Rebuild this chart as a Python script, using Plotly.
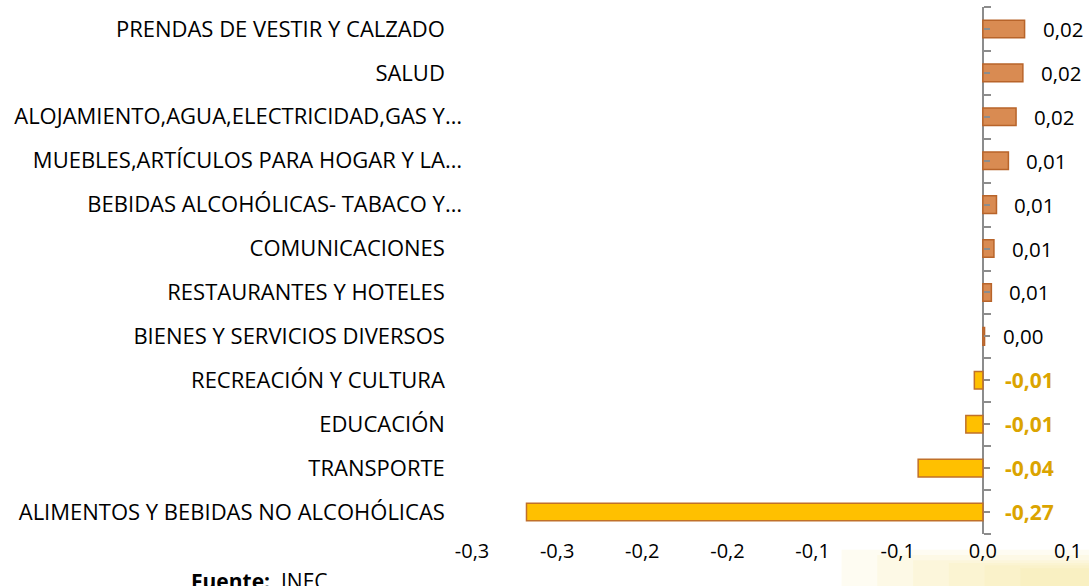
import plotly.graph_objects as go

# categories listed bottom to top
categories = [
    "ALIMENTOS Y BEBIDAS NO ALCOHÓLICAS",
    "TRANSPORTE",
    "EDUCACIÓN",
    "RECREACIÓN Y CULTURA",
    "BIENES Y SERVICIOS DIVERSOS",
    "RESTAURANTES Y HOTELES",
    "COMUNICACIONES",
    "BEBIDAS ALCOHÓLICAS- TABACO Y…",
    "MUEBLES,ARTÍCULOS PARA HOGAR Y LA…",
    "ALOJAMIENTO,AGUA,ELECTRICIDAD,GAS Y…",
    "SALUD",
    "PRENDAS DE VESTIR Y CALZADO",
]
values = [-0.268, -0.038, -0.010, -0.005, 0.001, 0.005, 0.0065, 0.008, 0.015, 0.0195, 0.0235, 0.0245]
value_labels = ["-0,27", "-0,04", "-0,01", "-0,01", "0,00", "0,01", "0,01", "0,01", "0,01", "0,02", "0,02", "0,02"]
x_ticks = [-0.30, -0.25, -0.20, -0.15, -0.10, -0.05, 0.00, 0.05]
x_tick_text = ["-0,3", "-0,3", "-0,2", "-0,2", "-0,1", "-0,1", "0,0", "0,1"]

FONT = "Open Sans"
POS_FILL, POS_LINE = "#D98B52", "#B8642A"
NEG_FILL, NEG_LINE = "#FFC000", "#C0702A"
NEG_TEXT = "#DBA400"
AXIS_GREY = "#8C8C8C"

# Excel lets the truncated names run a little further right than the full ones
category_text = [c if c.endswith("…") else c + "\u00a0\u00a0\u00a0" for c in categories]

fig = go.Figure()
fig.add_trace(go.Bar(
    x=values,
    y=categories,
    orientation="h",
    width=0.4,
    marker=dict(
        color=[POS_FILL if v >= 0 else NEG_FILL for v in values],
        line=dict(color=[POS_LINE if v >= 0 else NEG_LINE for v in values], width=1.5),
    ),
    hoverinfo="skip",
))

# invisible helpers so the tick-only overlay axes get drawn
for axis_name in ["y2", "y3"]:
    fig.add_trace(go.Scatter(x=[0], y=[0], yaxis=axis_name, mode="markers",
                             marker=dict(opacity=0), hoverinfo="skip"))

for cat, v, lab in zip(categories, values, value_labels):
    if v >= 0:
        fig.add_annotation(x=v, y=cat, text=lab, showarrow=False, xanchor="left",
                           xshift=16, font=dict(family=FONT, size=20.5, color="#000000"))
    else:
        fig.add_annotation(x=0, y=cat, text=f"<b>{lab}</b>", showarrow=False, xanchor="left",
                           xshift=20, font=dict(family=FONT, size=21, color=NEG_TEXT))

fig.add_annotation(xref="paper", yref="paper", x=-0.474, y=-0.089, xanchor="left", yanchor="middle",
                   text="<b>Fuente:</b>  INEC", showarrow=False,
                   font=dict(family=FONT, size=21, color="#000000"))

# soft yellow glow in the lower right corner
for x0, y1 in [(0.62, -0.03), (0.68, -0.04), (0.74, -0.05), (0.80, -0.055), (0.86, -0.06), (0.92, -0.065)]:
    fig.add_shape(type="rect", xref="paper", yref="paper", x0=x0, x1=1.04, y0=-0.12, y1=y1,
                  fillcolor="rgba(250,225,140,0.11)", line=dict(width=0), layer="below")

zero_pos = 0.30 / 0.35
overlay_axis = dict(
    overlaying="y",
    anchor="free",
    position=zero_pos,
    side="right",
    range=[-0.5, 11.5],
    showgrid=False,
    zeroline=False,
    showline=False,
    ticks="outside",
    tickwidth=2,
    tickcolor=AXIS_GREY,
    showticklabels=False,
    layer="above traces",
    automargin=False,
)

fig.update_layout(
    width=1089,
    height=586,
    paper_bgcolor="white",
    plot_bgcolor="white",
    showlegend=False,
    margin=dict(l=472, r=21, t=7, b=52, autoexpand=False),
    font=dict(family=FONT, size=19, color="#000000"),
    xaxis=dict(
        range=[-0.30, 0.05],
        tickvals=x_ticks,
        ticktext=x_tick_text,
        showgrid=False,
        zeroline=True,
        zerolinecolor=AXIS_GREY,
        zerolinewidth=2,
        showline=False,
        ticks="",
        tickfont=dict(size=20),
        ticklabelstandoff=3,
        automargin=False,
    ),
    yaxis=dict(
        categoryorder="array",
        categoryarray=categories,
        tickvals=categories,
        ticktext=category_text,
        range=[-0.5, 11.5],
        showgrid=False,
        zeroline=False,
        showline=False,
        ticks="",
        ticklabelstandoff=9,
        tickfont=dict(size=22),
        automargin=False,
    ),
    yaxis2=dict(overlay_axis, tick0=-0.5, dtick=1, ticklen=7),
    yaxis3=dict(overlay_axis, tick0=0, dtick=1, ticklen=6),
)

fig.write_html("out.html", config={"displayModeBar": False},
               post_script="document.body.style.margin='0';")
